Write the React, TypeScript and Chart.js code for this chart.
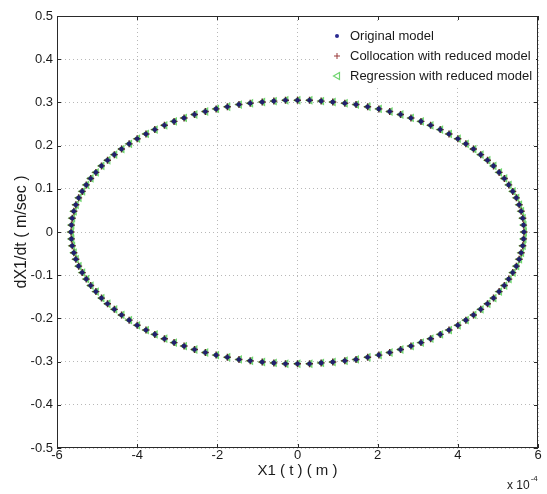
import React, { useEffect, useRef } from "react";
import { Chart, registerables } from "chart.js";

Chart.register(...registerables);

const xTicks = [-6, -4, -2, 0, 2, 4, 6];
const xTickLabels = ["-6", "-4", "-2", "0", "2", "4", "6"];
const yTicks = [-0.5, -0.4, -0.3, -0.2, -0.1, 0, 0.1, 0.2, 0.3, 0.4, 0.5];
const yTickLabels = ["-0.5", "-0.4", "-0.3", "-0.2", "-0.1", "0", "0.1", "0.2", "0.3", "0.4", "0.5"];

const seriesNames = ["Original model", "Collocation with reduced model", "Regression with reduced model"];
const xTitle = "X1 ( t ) ( m )";
const yTitle = "dX1/dt ( m/sec )";
const xExponentBase = "x 10";
const xExponent = "-4";

// X1 in units of 1e-4 m, dX1/dt in m/sec
const originalX = [
  5.65, 5.64, 5.62, 5.58, 5.53, 5.46, 5.37, 5.27, 5.16, 5.03, 4.89, 4.74, 4.57, 4.39, 4.2, 4.0, 3.78, 3.56, 3.32, 3.08, 2.83, 2.57, 2.3, 2.03, 1.75, 1.46, 1.18, 0.88, 0.59, 0.3,
  0, -0.3, -0.59, -0.88, -1.18, -1.46, -1.75, -2.03, -2.3, -2.57, -2.83, -3.08, -3.32, -3.56, -3.78, -4.0, -4.2, -4.39, -4.57, -4.74, -4.89, -5.03, -5.16, -5.27, -5.37, -5.46, -5.53, -5.58, -5.62, -5.64,
  -5.65, -5.64, -5.62, -5.58, -5.53, -5.46, -5.37, -5.27, -5.16, -5.03, -4.89, -4.74, -4.57, -4.39, -4.2, -4.0, -3.78, -3.56, -3.32, -3.08, -2.83, -2.57, -2.3, -2.03, -1.75, -1.46, -1.18, -0.88, -0.59, -0.3,
  0, 0.3, 0.59, 0.88, 1.18, 1.46, 1.75, 2.03, 2.3, 2.57, 2.83, 3.08, 3.32, 3.56, 3.78, 4.0, 4.2, 4.39, 4.57, 4.74, 4.89, 5.03, 5.16, 5.27, 5.37, 5.46, 5.53, 5.58, 5.62, 5.64,
];
const originalY = [
  0, 0.016, 0.032, 0.048, 0.063, 0.079, 0.094, 0.109, 0.124, 0.138, 0.153, 0.166, 0.179, 0.192, 0.204, 0.216, 0.227, 0.237, 0.247, 0.256, 0.264, 0.272, 0.279, 0.285, 0.29, 0.295, 0.298, 0.301, 0.303, 0.305,
  0.305, 0.305, 0.303, 0.301, 0.298, 0.295, 0.29, 0.285, 0.279, 0.272, 0.264, 0.256, 0.247, 0.237, 0.227, 0.216, 0.204, 0.192, 0.179, 0.166, 0.153, 0.138, 0.124, 0.109, 0.094, 0.079, 0.063, 0.048, 0.032, 0.016,
  0, -0.016, -0.032, -0.048, -0.063, -0.079, -0.094, -0.109, -0.124, -0.138, -0.153, -0.166, -0.179, -0.192, -0.204, -0.216, -0.227, -0.237, -0.247, -0.256, -0.264, -0.272, -0.279, -0.285, -0.29, -0.295, -0.298, -0.301, -0.303, -0.305,
  -0.305, -0.305, -0.303, -0.301, -0.298, -0.295, -0.29, -0.285, -0.279, -0.272, -0.264, -0.256, -0.247, -0.237, -0.227, -0.216, -0.204, -0.192, -0.179, -0.166, -0.153, -0.138, -0.124, -0.109, -0.094, -0.079, -0.063, -0.048, -0.032, -0.016,
];
const collocationX = [
  5.65, 5.64, 5.62, 5.58, 5.53, 5.46, 5.37, 5.27, 5.16, 5.03, 4.89, 4.74, 4.57, 4.39, 4.2, 4.0, 3.78, 3.56, 3.32, 3.08, 2.83, 2.57, 2.3, 2.03, 1.75, 1.46, 1.18, 0.88, 0.59, 0.3,
  0, -0.3, -0.59, -0.88, -1.18, -1.46, -1.75, -2.03, -2.3, -2.57, -2.83, -3.08, -3.32, -3.56, -3.78, -4.0, -4.2, -4.39, -4.57, -4.74, -4.89, -5.03, -5.16, -5.27, -5.37, -5.46, -5.53, -5.58, -5.62, -5.64,
  -5.65, -5.64, -5.62, -5.58, -5.53, -5.46, -5.37, -5.27, -5.16, -5.03, -4.89, -4.74, -4.57, -4.39, -4.2, -4.0, -3.78, -3.56, -3.32, -3.08, -2.83, -2.57, -2.3, -2.03, -1.75, -1.46, -1.18, -0.88, -0.59, -0.3,
  0, 0.3, 0.59, 0.88, 1.18, 1.46, 1.75, 2.03, 2.3, 2.57, 2.83, 3.08, 3.32, 3.56, 3.78, 4.0, 4.2, 4.39, 4.57, 4.74, 4.89, 5.03, 5.16, 5.27, 5.37, 5.46, 5.53, 5.58, 5.62, 5.64,
];
const collocationY = [
  0, 0.016, 0.032, 0.048, 0.063, 0.079, 0.094, 0.109, 0.124, 0.138, 0.153, 0.166, 0.179, 0.192, 0.204, 0.216, 0.227, 0.237, 0.247, 0.256, 0.264, 0.272, 0.279, 0.285, 0.29, 0.295, 0.298, 0.301, 0.303, 0.305,
  0.305, 0.305, 0.303, 0.301, 0.298, 0.295, 0.29, 0.285, 0.279, 0.272, 0.264, 0.256, 0.247, 0.237, 0.227, 0.216, 0.204, 0.192, 0.179, 0.166, 0.153, 0.138, 0.124, 0.109, 0.094, 0.079, 0.063, 0.048, 0.032, 0.016,
  0, -0.016, -0.032, -0.048, -0.063, -0.079, -0.094, -0.109, -0.124, -0.138, -0.153, -0.166, -0.179, -0.192, -0.204, -0.216, -0.227, -0.237, -0.247, -0.256, -0.264, -0.272, -0.279, -0.285, -0.29, -0.295, -0.298, -0.301, -0.303, -0.305,
  -0.305, -0.305, -0.303, -0.301, -0.298, -0.295, -0.29, -0.285, -0.279, -0.272, -0.264, -0.256, -0.247, -0.237, -0.227, -0.216, -0.204, -0.192, -0.179, -0.166, -0.153, -0.138, -0.124, -0.109, -0.094, -0.079, -0.063, -0.048, -0.032, -0.016,
];
const regressionX = [
  5.66, 5.65, 5.63, 5.59, 5.54, 5.47, 5.38, 5.28, 5.17, 5.04, 4.9, 4.75, 4.58, 4.4, 4.21, 4.01, 3.79, 3.57, 3.33, 3.09, 2.84, 2.58, 2.31, 2.04, 1.76, 1.47, 1.19, 0.89, 0.6, 0.31,
  0.01, -0.29, -0.58, -0.87, -1.17, -1.45, -1.74, -2.02, -2.29, -2.56, -2.82, -3.07, -3.31, -3.55, -3.77, -3.99, -4.19, -4.38, -4.56, -4.73, -4.88, -5.02, -5.15, -5.26, -5.36, -5.45, -5.52, -5.57, -5.61, -5.63,
  -5.64, -5.63, -5.61, -5.57, -5.52, -5.45, -5.36, -5.26, -5.15, -5.02, -4.88, -4.73, -4.56, -4.38, -4.19, -3.99, -3.77, -3.55, -3.31, -3.07, -2.82, -2.56, -2.29, -2.02, -1.74, -1.45, -1.17, -0.87, -0.58, -0.29,
  0.01, 0.31, 0.6, 0.89, 1.19, 1.47, 1.76, 2.04, 2.31, 2.58, 2.84, 3.09, 3.33, 3.57, 3.79, 4.01, 4.21, 4.4, 4.58, 4.75, 4.9, 5.04, 5.17, 5.28, 5.38, 5.47, 5.54, 5.59, 5.63, 5.65,
];
const regressionY = [
  0, 0.016, 0.032, 0.048, 0.063, 0.079, 0.094, 0.109, 0.124, 0.138, 0.153, 0.166, 0.179, 0.192, 0.204, 0.216, 0.227, 0.237, 0.247, 0.256, 0.264, 0.272, 0.279, 0.285, 0.29, 0.295, 0.298, 0.301, 0.303, 0.305,
  0.305, 0.305, 0.303, 0.301, 0.298, 0.295, 0.29, 0.285, 0.279, 0.272, 0.264, 0.256, 0.247, 0.237, 0.227, 0.216, 0.204, 0.192, 0.179, 0.166, 0.153, 0.138, 0.124, 0.109, 0.094, 0.079, 0.063, 0.048, 0.032, 0.016,
  0, -0.016, -0.032, -0.048, -0.063, -0.079, -0.094, -0.109, -0.124, -0.138, -0.153, -0.166, -0.179, -0.192, -0.204, -0.216, -0.227, -0.237, -0.247, -0.256, -0.264, -0.272, -0.279, -0.285, -0.29, -0.295, -0.298, -0.301, -0.303, -0.305,
  -0.305, -0.305, -0.303, -0.301, -0.298, -0.295, -0.29, -0.285, -0.279, -0.272, -0.264, -0.256, -0.247, -0.237, -0.227, -0.216, -0.204, -0.192, -0.179, -0.166, -0.153, -0.138, -0.124, -0.109, -0.094, -0.079, -0.063, -0.048, -0.032, -0.016,
];

const FONT = "'Liberation Sans', Arial, sans-serif";
const COL_ORIG = "#20206e";
const COL_COLL = "#5a2828";
const COL_REG = "#6fd46f";
const GRID = "#b8b8b8";

const toPoints = (xs: number[], ys: number[]) => xs.map((x, i) => ({ x, y: ys[i] }));

function drawMarker(ctx: CanvasRenderingContext2D, kind: number, x: number, y: number) {
  ctx.save();
  if (kind === 0) {
    ctx.fillStyle = "#2a2a90";
    ctx.beginPath();
    ctx.arc(x, y, 2, 0, Math.PI * 2);
    ctx.fill();
  } else if (kind === 1) {
    ctx.strokeStyle = "#9a3a3a";
    ctx.lineWidth = 1;
    ctx.beginPath();
    ctx.moveTo(x - 3, y);
    ctx.lineTo(x + 3, y);
    ctx.moveTo(x, y - 3);
    ctx.lineTo(x, y + 3);
    ctx.stroke();
  } else {
    ctx.strokeStyle = COL_REG;
    ctx.lineWidth = 1.2;
    ctx.beginPath();
    ctx.moveTo(x - 3.5, y);
    ctx.lineTo(x + 2.5, y - 3.5);
    ctx.lineTo(x + 2.5, y + 3.5);
    ctx.closePath();
    ctx.stroke();
  }
  ctx.restore();
}

const framePlugin = {
  id: "matlabFrame",
  afterDraw(chart: any) {
    const { ctx, chartArea, scales } = chart;
    const { left, right, top, bottom } = chartArea;
    ctx.save();
    ctx.strokeStyle = "#2a2a2a";
    ctx.lineWidth = 1;
    ctx.strokeRect(Math.round(left) + 0.5, Math.round(top) + 0.5, Math.round(right - left) - 1, Math.round(bottom - top) - 1);
    const tl = 4;
    ctx.beginPath();
    xTicks.forEach((v) => {
      const px = Math.round(scales.x.getPixelForValue(v)) + 0.5;
      ctx.moveTo(px, bottom);
      ctx.lineTo(px, bottom - tl);
      ctx.moveTo(px, top);
      ctx.lineTo(px, top + tl);
    });
    yTicks.forEach((v) => {
      const py = Math.round(scales.y.getPixelForValue(v)) + 0.5;
      ctx.moveTo(left, py);
      ctx.lineTo(left + tl, py);
      ctx.moveTo(right, py);
      ctx.lineTo(right - tl, py);
    });
    ctx.stroke();

    // legend
    const lx = 320;
    const ly = 22;
    ctx.fillStyle = "#ffffff";
    ctx.fillRect(lx, ly, right - 2 - lx, 66);
    ctx.font = `13px ${FONT}`;
    ctx.textBaseline = "middle";
    ctx.textAlign = "left";
    seriesNames.forEach((name, i) => {
      const cy = 36 + i * 20;
      drawMarker(ctx, i, 337, cy);
      ctx.fillStyle = "#1a1a1a";
      ctx.fillText(name, 350, cy);
    });

    // exponent label
    ctx.fillStyle = "#1a1a1a";
    ctx.font = `12px ${FONT}`;
    ctx.textBaseline = "middle";
    ctx.fillText(xExponentBase, 507, 486);
    const w = ctx.measureText(xExponentBase).width;
    ctx.font = `8px ${FONT}`;
    ctx.fillText(xExponent, 507 + w + 1, 479);
    ctx.restore();
  },
};

export default function App() {
  const canvasRef = useRef<HTMLCanvasElement | null>(null);

  useEffect(() => {
    const canvas = canvasRef.current;
    if (!canvas) return;
    const chart = new Chart(canvas, {
      type: "scatter",
      data: {
        datasets: [
          {
            label: seriesNames[0],
            data: toPoints(originalX, originalY),
            pointStyle: "circle",
            pointRadius: 2.3,
            backgroundColor: COL_ORIG,
            borderColor: COL_ORIG,
            borderWidth: 0,
            order: 0,
          },
          {
            label: seriesNames[1],
            data: toPoints(collocationX, collocationY),
            pointStyle: "cross",
            pointRadius: 3.5,
            backgroundColor: COL_COLL,
            borderColor: COL_COLL,
            borderWidth: 1.4,
            order: 1,
          },
          {
            label: seriesNames[2],
            data: toPoints(regressionX, regressionY),
            pointStyle: "triangle",
            rotation: -90,
            pointRadius: 3.8,
            backgroundColor: "rgba(0,0,0,0)",
            borderColor: COL_REG,
            borderWidth: 1.3,
            order: 2,
          },
        ],
      },
      options: {
        responsive: false,
        animation: false,
        events: [],
        layout: { padding: { top: 16, right: 9, left: 0, bottom: 0 } },
        plugins: {
          legend: { display: false },
          tooltip: { enabled: false },
        },
        scales: {
          x: {
            type: "linear",
            min: -6,
            max: 6,
            afterFit: (s: any) => {
              s.height = 46;
            },
            afterBuildTicks: (s: any) => {
              s.ticks = xTicks.map((v) => ({ value: v }));
            },
            ticks: {
              callback: (v: any) => xTickLabels[xTicks.indexOf(Number(v))] ?? "",
              color: "#1a1a1a",
              font: { family: FONT, size: 13 },
              padding: 0,
              maxRotation: 0,
              autoSkip: false,
            },
            grid: {
              color: GRID,
              lineWidth: 1,
              drawTicks: false,
            },
            border: { display: false, dash: [1, 3] },
            title: {
              display: true,
              text: xTitle,
              color: "#1a1a1a",
              font: { family: FONT, size: 15 },
              padding: { top: 0, bottom: 14 },
            },
          },
          y: {
            type: "linear",
            min: -0.5,
            max: 0.5,
            afterFit: (s: any) => {
              s.width = 57;
            },
            afterBuildTicks: (s: any) => {
              s.ticks = yTicks.map((v) => ({ value: v }));
            },
            ticks: {
              callback: (v: any) => {
                const i = yTicks.findIndex((t) => Math.abs(t - Number(v)) < 1e-9);
                return i >= 0 ? yTickLabels[i] : "";
              },
              color: "#1a1a1a",
              font: { family: FONT, size: 13 },
              padding: 4,
              autoSkip: false,
            },
            grid: {
              color: GRID,
              lineWidth: 1,
              drawTicks: false,
            },
            border: { display: false, dash: [1, 3] },
            title: {
              display: true,
              text: yTitle,
              color: "#1a1a1a",
              font: { family: FONT, size: 16 },
              padding: { top: 12, bottom: 0 },
            },
          },
        },
      },
      plugins: [framePlugin],
    });
    return () => chart.destroy();
  }, []);

  return (
    <div style={{ position: "absolute", left: 0, top: 0, width: 547, height: 494, background: "#fff" }}>
      <canvas ref={canvasRef} width={547} height={494} style={{ display: "block" }} />
    </div>
  );
}
